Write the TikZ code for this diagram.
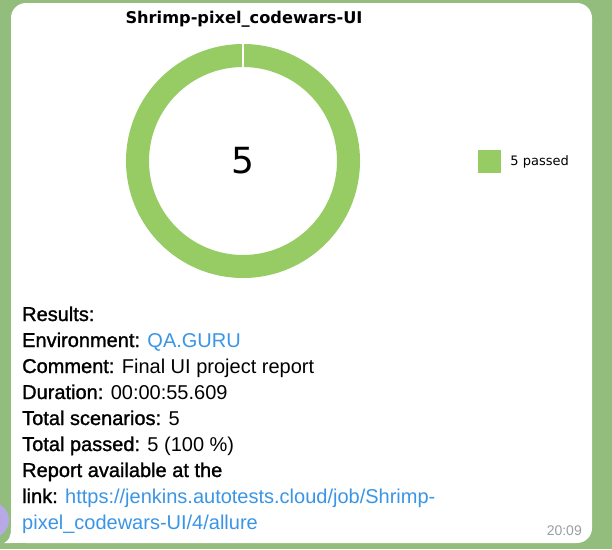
\documentclass[tikz,border=0pt]{standalone}
\usepackage{fontspec}
\setmainfont{Liberation Sans}
\newfontfamily\chartfont{DejaVu Sans}
\newfontfamily\labfont{Liberation Sans}[FakeBold=1.3]
\newcommand\lab[1]{{\labfont #1}}
\usetikzlibrary{positioning}
\definecolor{passed}{HTML}{97CC64}
\definecolor{wallgreen}{RGB}{146,189,125}
\definecolor{linkblue}{HTML}{3A95E6}
\definecolor{stampgray}{HTML}{9A9FA3}
\definecolor{avatar}{HTML}{B7A8E6}
\tikzset{
        txt/.style={anchor=base west, inner sep=0pt, font=\fontsize{20}{24}\selectfont},
        legbox/.style={fill=passed, minimum size=23pt, inner sep=0pt}
}
\begin{document}
\begin{tikzpicture}[x=1pt, y=-1pt]
        \useasboundingbox (0,0) rectangle (612,549);
        \fill [wallgreen] (0,0) rectangle (612,549);
        \fill [avatar] (-9,520) circle (18);
        \fill [white, rounded corners=15pt] (11,3) rectangle (592,543);
        \fill [white] (11,520) rectangle (40,543);
        \fill [white] (11,528) .. controls (11,538) and (8,541) .. (4,543) -- (12,543) -- cycle;
        \node [font=\chartfont\bfseries\fontsize{16.2}{19}\selectfont] (TT) at (244,19) {Shrimp-pixel\_codewars-UI};
        \fill [passed, even odd rule] (243,161) circle (117) (243,161) circle (94);
        \draw [white, line width=1.2pt] (243,43) -- (243,68);
        \node [font=\chartfont\fontsize{36}{40}\selectfont] (CT) at (243,161) {5};
        \node [legbox] (LG) at (489.5,161.5) {};
        \node [right=9pt of LG, inner sep=0pt, font=\chartfont\fontsize{13}{15}\selectfont] (LGT) {5 passed};
        \node [txt] (RES) at (22,321) {\lab{Results:}};
        \node [txt] (ENV) at (22,347) {\lab{Environment:} \textcolor{linkblue}{QA.GURU}};
        \node [txt] (COM) at (22,373) {\lab{Comment:} Final UI project report};
        \node [txt] (DUR) at (22,399) {\lab{Duration:} 00:00:55.609};
        \node [txt] (SCN) at (22,425) {\lab{Total scenarios:} 5};
        \node [txt] (PAS) at (22,451) {\lab{Total passed:} 5 (100 \%)};
        \node [txt] (REP) at (22,477) {\lab{Report available at the}};
        \node [txt] (LNK) at (22,503) {\lab{link:} \textcolor{linkblue}{https://jenkins.autotests.cloud/job/Shrimp-}};
        \node [txt] (URL) at (22,529) {\textcolor{linkblue}{pixel\_codewars-UI/4/allure}};
        \node [anchor=base east, inner sep=0pt, text=stampgray, font=\fontsize{14}{16}\selectfont] (TIM) at (582,535) {20:09};
\end{tikzpicture}
\end{document}
